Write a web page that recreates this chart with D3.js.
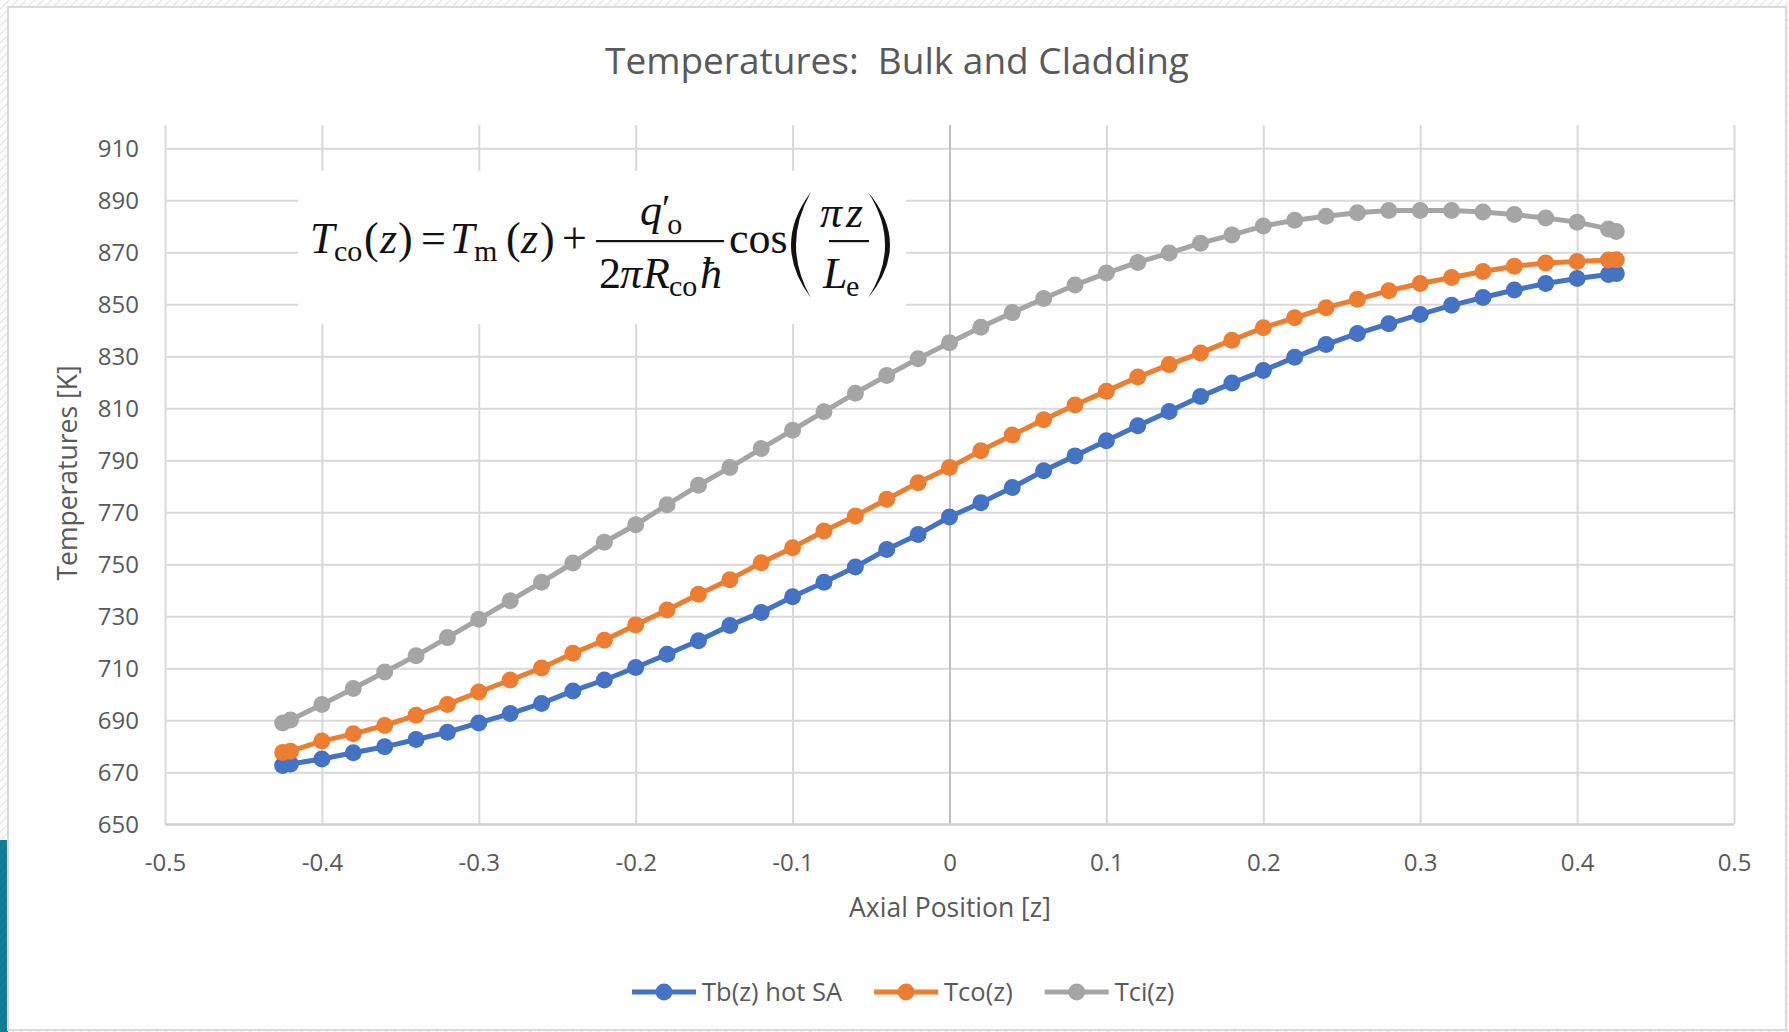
<!DOCTYPE html>
<html>
<head>
<meta charset="utf-8">
<script src="https://cdn.jsdelivr.net/npm/d3@7"></script>
<style>
  html, body { margin: 0; padding: 0; background: #fafafa; }
  svg { display: block; }
  .tick text { fill: #595959; font-family: "Open Sans", "Noto Sans", sans-serif; }
</style>
</head>
<body>
<svg id="chart" width="1789" height="1032"></svg>
<script>
// Axial position of each node [z]
const zPos = [-0.425, -0.42, -0.40, -0.38, -0.36, -0.34, -0.32, -0.30, -0.28, -0.26, -0.24,
  -0.22, -0.20, -0.18, -0.16, -0.14, -0.12, -0.10, -0.08, -0.06, -0.04, -0.02, 0,
  0.02, 0.04, 0.06, 0.08, 0.10, 0.12, 0.14, 0.16, 0.18, 0.20, 0.22, 0.24, 0.26,
  0.28, 0.30, 0.32, 0.34, 0.36, 0.38, 0.40, 0.42, 0.425];

// Bulk coolant temperature, hot subassembly [K]
const tbHotSA = [672.6, 673.2, 675.1, 677.5, 679.8, 682.6, 685.4, 689.0, 692.6, 696.5, 701.3,
  705.5, 710.3, 715.4, 720.6, 726.5, 731.5, 737.5, 743.1, 749.0, 755.7, 761.5, 768.2,
  773.7, 779.5, 786.0, 791.7, 797.5, 803.3, 808.8, 814.5, 819.7, 824.5, 829.6, 834.5, 838.8,
  842.5, 846.1, 849.6, 852.6, 855.5, 858.0, 859.9, 861.5, 861.8];

// Cladding outer surface temperature [K]
const tco = [677.6, 678.1, 682.0, 684.8, 688.0, 691.9, 696.1, 700.9, 705.5, 710.1, 715.8,
  720.8, 726.7, 732.4, 738.5, 744.1, 750.6, 756.4, 762.8, 768.6, 775.0, 781.4, 787.2,
  793.7, 799.7, 805.6, 811.3, 816.6, 822.0, 826.8, 831.3, 836.2, 841.0, 844.8, 848.7, 851.9,
  855.2, 858.0, 860.3, 862.6, 864.6, 865.9, 866.5, 867.0, 867.1];

// Cladding inner surface temperature [K]
const tci = [689.0, 690.1, 696.1, 702.2, 708.6, 714.8, 721.8, 728.9, 736.0, 743.1, 750.5,
  758.5, 765.2, 772.9, 780.4, 787.2, 794.5, 801.6, 808.7, 815.8, 822.6, 829.1, 835.2,
  841.2, 846.8, 852.2, 857.4, 862.0, 866.1, 869.7, 873.5, 876.7, 880.1, 882.3, 883.9, 885.2,
  886.1, 886.1, 886.1, 885.5, 884.5, 883.2, 881.6, 879.0, 878.0];

const seriesNames = ["Tb(z) hot SA", "Tco(z)", "Tci(z)"];
const seriesColors = ["#4472C4", "#ED7D31", "#A5A5A5"];

const xTicks = [-0.5, -0.4, -0.3, -0.2, -0.1, 0, 0.1, 0.2, 0.3, 0.4, 0.5];
const yTicks = [650, 670, 690, 710, 730, 750, 770, 790, 810, 830, 850, 870, 890, 910];

const titleText = "Temperatures:\u00A0 Bulk and Cladding";
const xTitle = "Axial Position [z]";
const yTitle = "Temperatures [K]";

const svg = d3.select("#chart");
const W = 1789, H = 1032;
const plot = { left: 165, right: 1734, top: 148.3, bottom: 824.3, gridTop: 125 };
const FONT = '"Open Sans", "Noto Sans", sans-serif';
const SERIF = '"Liberation Serif", "DejaVu Serif", serif';

// ---- slide backdrop with faint diagonal hatching
const defs = svg.append("defs");
const hatch = defs.append("pattern").attr("id", "hatch").attr("patternUnits", "userSpaceOnUse")
  .attr("width", 6).attr("height", 6).attr("patternTransform", "rotate(45)");
hatch.append("rect").attr("width", 6).attr("height", 6).attr("fill", "#fbfbfb");
hatch.append("line").attr("x1", 0).attr("y1", 0).attr("x2", 0).attr("y2", 6)
  .attr("stroke", "#e4e4e4").attr("stroke-width", 2);
svg.append("rect").attr("width", W).attr("height", H).attr("fill", "url(#hatch)");

const tealHatch = defs.append("pattern").attr("id", "tealHatch").attr("patternUnits", "userSpaceOnUse")
  .attr("width", 5).attr("height", 5).attr("patternTransform", "rotate(35)");
tealHatch.append("rect").attr("width", 5).attr("height", 5).attr("fill", "#0f7f9a");
tealHatch.append("line").attr("x1", 0).attr("y1", 0).attr("x2", 0).attr("y2", 5)
  .attr("stroke", "#1b6f86").attr("stroke-width", 1.5);
svg.append("rect").attr("x", 0).attr("y", 840).attr("width", 8).attr("height", H - 840)
  .attr("fill", "url(#tealHatch)");

// ---- chart area
svg.append("rect").attr("x", 8).attr("y", 7).attr("width", 1778).attr("height", 1023)
  .attr("fill", "#ffffff").attr("stroke", "#d9d9d9").attr("stroke-width", 2);

const x = d3.scaleLinear().domain([-0.5, 0.5]).range([plot.left, plot.right]);
const y = d3.scaleLinear().domain([650, 910]).range([plot.bottom, plot.top]);

// horizontal gridlines + value labels
const gy = svg.append("g").attr("transform", `translate(${plot.left},0)`)
  .call(d3.axisLeft(y).tickValues(yTicks).tickSize(-(plot.right - plot.left))
    .tickPadding(26).tickFormat(d3.format("d")));
gy.select(".domain").remove();
gy.selectAll(".tick line").attr("stroke", "#d9d9d9").attr("stroke-width", 2);
gy.selectAll(".tick text").attr("font-size", 24).attr("dy", "0.36em");

// vertical gridlines + position labels
const gx = svg.append("g").attr("transform", `translate(0,${plot.bottom})`)
  .call(d3.axisBottom(x).tickValues(xTicks).tickSize(-(plot.bottom - plot.gridTop))
    .tickFormat(d => d === 0 ? "0" : String(d)));
gx.select(".domain").remove();
gx.selectAll(".tick line")
  .attr("stroke", d => d === 0 ? "#bfbfbf" : "#d9d9d9")
  .attr("stroke-width", 2);
gx.selectAll(".tick text").attr("font-size", 24).attr("y", 47).attr("dy", null);

// bottom plot edge
svg.append("line").attr("x1", plot.left).attr("x2", plot.right)
  .attr("y1", plot.bottom).attr("y2", plot.bottom)
  .attr("stroke", "#d0d0d0").attr("stroke-width", 2);

// ---- equation panel (white box over the grid)
svg.append("rect").attr("x", 298).attr("y", 171).attr("width", 608).attr("height", 153)
  .attr("fill", "#ffffff");

const eq = svg.append("g").attr("fill", "#111").attr("font-family", SERIF);
// one text element per run of glyphs; each run: [text, x, y, size, italic]
function runs(list) {
  const t = eq.append("text");
  list.forEach(([txt, px, py, size, italic]) => {
    t.append("tspan").attr("x", px).attr("y", py).attr("font-size", size)
      .attr("font-style", italic ? "italic" : "normal").text(txt);
  });
}
const BL = 253, MAIN = 44, SUB = 30;
runs([
  ["T", 310, BL, MAIN, true], ["co", 334, BL + 8, SUB, false],
  ["(", 364, BL, MAIN, false], ["z", 380, BL, MAIN, true], [")", 398, BL, MAIN, false],
  ["=", 421, BL, MAIN, false],
  ["T", 450, BL, MAIN, true], ["m", 474, BL + 8, SUB, false],
  ["(", 506, BL, MAIN, false], ["z", 521, BL, MAIN, true], [")", 540, BL, MAIN, false]
]);
runs([["+", 562, BL, MAIN, false]]);
// q'_o / (2 pi R_co hbar)
eq.append("rect").attr("x", 596).attr("y", 240).attr("width", 128).attr("height", 2.2);
const num = eq.append("text").attr("x", 640).attr("y", 225);
num.append("tspan").attr("font-size", MAIN).attr("font-style", "italic").text("q");
num.append("tspan").attr("font-size", 38).attr("dy", -4).text("\u2032");
num.append("tspan").attr("font-size", SUB).attr("dx", -3).attr("dy", 13).text("o");
runs([
  ["2", 599, 288, MAIN, false], ["\u03C0", 620, 288, MAIN, true], ["R", 643, 288, MAIN, true],
  ["co", 669, 296, SUB, false], ["\u0127", 700, 288, MAIN, true]
]);
runs([["cos", 729, BL, MAIN, false]]);
// large parentheses around pi z / L_e
eq.append("path").attr("d", "M811,192 Q771,245 811,298 Q781,245 811,192 Z");
eq.append("path").attr("d", "M868,192 Q912,245 868,298 Q902,245 868,192 Z");
eq.append("rect").attr("x", 829).attr("y", 240).attr("width", 40).attr("height", 2.2);
runs([["\u03C0", 820, 227, MAIN, true], ["z", 846, 227, MAIN, true]]);
runs([["L", 823, 288, MAIN, true], ["e", 846, 296, SUB, false]]);

// ---- series
const series = [tbHotSA, tco, tci].map((vals, i) => ({
  name: seriesNames[i], color: seriesColors[i],
  points: zPos.map((z, j) => ({ z, t: vals[j] }))
}));

const line = d3.line().x(d => x(d.z)).y(d => y(d.t));
const gs = svg.append("g").selectAll("g").data(series).join("g");
gs.append("path").attr("d", d => line(d.points)).attr("fill", "none")
  .attr("stroke", d => d.color).attr("stroke-width", 5).attr("stroke-linejoin", "round");
gs.each(function (s) {
  d3.select(this).selectAll("circle").data(s.points).join("circle")
    .attr("cx", d => x(d.z)).attr("cy", d => y(d.t)).attr("r", 8.5)
    .attr("fill", s.color);
});

// ---- titles
svg.append("text").attr("x", 897).attr("y", 74).attr("text-anchor", "middle")
  .attr("font-family", FONT).attr("font-size", 37).attr("fill", "#595959").text(titleText);
svg.append("text").attr("x", 950).attr("y", 917).attr("text-anchor", "middle")
  .attr("font-family", FONT).attr("font-size", 26.5).attr("fill", "#595959").text(xTitle);
svg.append("text").attr("transform", "translate(77,473) rotate(-90)").attr("text-anchor", "middle")
  .attr("font-family", FONT).attr("font-size", 26.5).attr("fill", "#595959").text(yTitle);

// ---- legend
const legend = svg.append("g").attr("font-family", FONT).attr("font-size", 25.5).attr("fill", "#595959");
let lx = 632;
const ly = 992;
series.forEach(s => {
  const g = legend.append("g");
  g.append("line").attr("x1", lx).attr("x2", lx + 64).attr("y1", ly).attr("y2", ly)
    .attr("stroke", s.color).attr("stroke-width", 5);
  g.append("circle").attr("cx", lx + 32).attr("cy", ly).attr("r", 8.5).attr("fill", s.color);
  const t = g.append("text").attr("x", lx + 70).attr("y", ly).attr("dy", "0.35em").text(s.name);
  lx = lx + 70 + t.node().getComputedTextLength() + 32;
});
</script>
</body>
</html>
